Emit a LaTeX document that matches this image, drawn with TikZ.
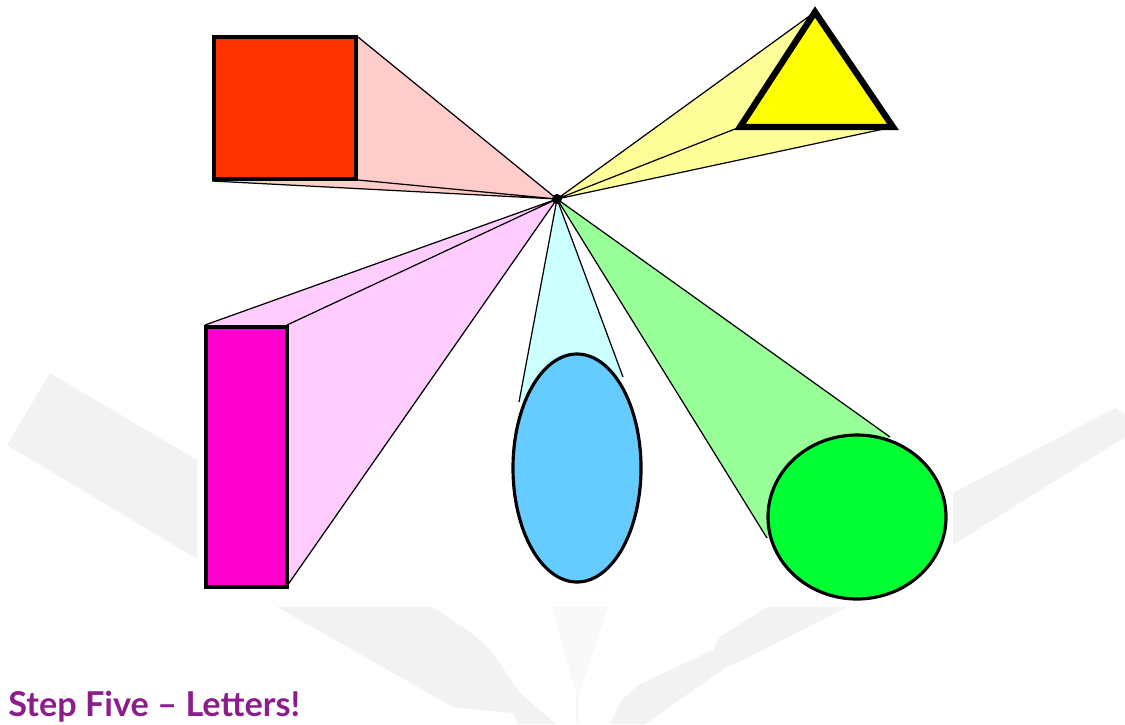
\documentclass[tikz,border=0pt]{standalone}
\usepackage{fontspec}
\setmainfont{Lato}
\usepackage{xcolor}
\definecolor{squarered}{RGB}{255,51,0}
\definecolor{squarefan}{RGB}{255,204,204}
\definecolor{triyellow}{RGB}{255,255,0}
\definecolor{trifan}{RGB}{255,255,153}
\definecolor{barmagenta}{RGB}{255,0,204}
\definecolor{barfan}{RGB}{255,204,255}
\definecolor{ovalblue}{RGB}{102,204,255}
\definecolor{ovalfan}{RGB}{204,255,255}
\definecolor{discgreen}{RGB}{0,255,51}
\definecolor{discfan}{RGB}{153,255,153}
\definecolor{markgrey}{RGB}{242,242,242}
\definecolor{marklight}{RGB}{248,248,248}
\definecolor{stepviolet}{RGB}{140,30,140}

\begin{document}
\begin{tikzpicture}[x=0.02cm, y=-0.02cm,
    fanline/.style={draw=black, line width=0.7pt},
    outline/.style={draw=black, line width=2.3pt, line join=miter}]
  \useasboundingbox (0,0) rectangle (1125,724);
  % Background watermark
  \fill[markgrey] (50,373) -- (197,460) -- (197,559) -- (7,445) -- cycle;
  \fill[markgrey] (953,493) -- (1115,408) -- (1125,414) -- (1125,437) -- (953,545) -- cycle;
  \fill[markgrey] (277,607) -- (433,607) .. controls (475,635) .. (492,652)
    -- (520,693) -- (556,724) -- (518,724) -- (513,713)
    .. controls (480,710) .. (453,707) -- cycle;
  \fill[marklight] (552,607) -- (608,607) -- (579,693) -- (579,724)
    -- (576,724) -- (576,693) -- cycle;
  \fill[markgrey] (767,607) -- (847,607) -- (743,660) -- (728,666)
    -- (645,724) -- (610,724) .. controls (622,698) .. (640,684)
    -- (713,650) .. controls (720,636) .. (728,632) -- cycle;
  % Vanishing point and corners
  \coordinate (vp) at (557,199);
  \coordinate (sqTR) at (358,37);
  \coordinate (sqBR) at (358,180);
  \coordinate (sqBL) at (212,181);
  \coordinate (triA) at (815,12);
  \coordinate (triL) at (740,127);
  \coordinate (triR) at (893,127);
  \coordinate (barTL) at (205,325);
  \coordinate (barTR) at (287,325);
  \coordinate (barBR) at (287,586);
  \coordinate (ovalL) at (519,402);
  \coordinate (ovalR) at (623,377);
  \coordinate (discT) at (890,437);
  \coordinate (discB) at (767,538);
  % Square
  \fill[squarefan] (vp) -- (sqTR) -- (sqBR) -- (sqBL) -- cycle;
  \draw[fanline] (vp) -- (sqTR) (vp) -- (sqBR) (vp) -- (sqBL);
  \draw[outline, fill=squarered] (214,37) rectangle (356,179);
  % Triangle
  \fill[trifan] (vp) -- (triA) -- (triL) -- (triR) -- cycle;
  \draw[fanline] (vp) -- (triA) (vp) -- (triL) (vp) -- (triR);
  \draw[outline, line width=3.6pt, fill=triyellow] (triA) -- (triL) -- (triR) -- cycle;
  % Bar
  \fill[barfan] (vp) -- (barTL) -- (barTR) -- (barBR) -- cycle;
  \draw[fanline] (vp) -- (barTL) (vp) -- (barTR) (vp) -- (barBR);
  \draw[outline, fill=barmagenta] (206,327) rectangle (287,587);
  % Oval
  \fill[ovalfan] (vp) -- (ovalL) -- (ovalR) -- cycle;
  \draw[fanline] (vp) -- (ovalL) (vp) -- (ovalR);
  \draw[outline, line width=1.8pt, fill=ovalblue] (577,468) ellipse [x radius=64, y radius=114];
  % Disc
  \fill[discfan] (vp) -- (discT) -- (discB) -- cycle;
  \draw[fanline] (vp) -- (discT) (vp) -- (discB);
  \draw[outline, line width=1.8pt, fill=discgreen] (857,517) ellipse [x radius=89, y radius=82];
  \fill (vp) circle (5);
  % Caption
  \node[anchor=base west, inner sep=0pt, text=stepviolet,
    font=\bfseries\fontsize{19.5}{23}\selectfont] (caption) at (8,716) {Step Five -- Letters!};
\end{tikzpicture}
\end{document}
